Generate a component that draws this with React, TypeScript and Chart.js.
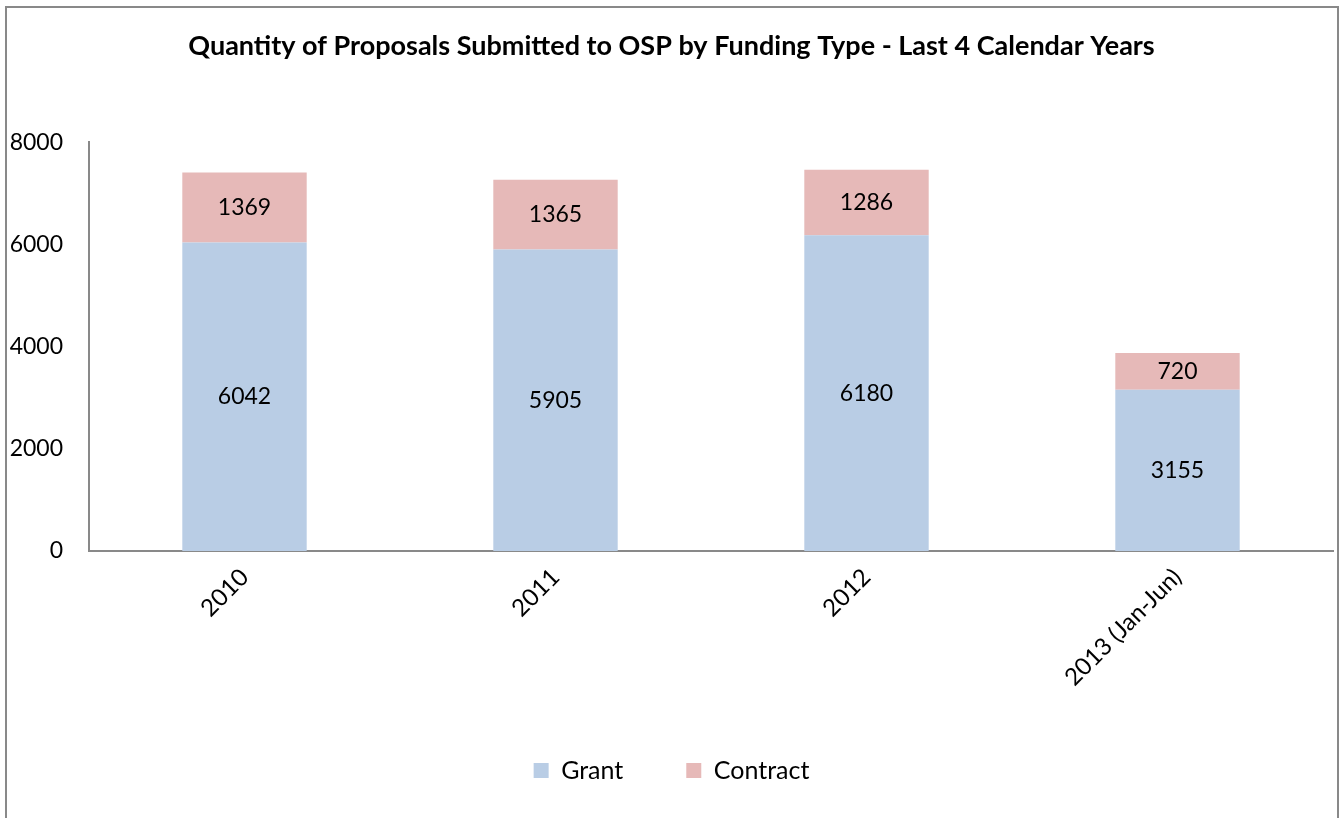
import React, { useEffect, useRef } from "react";
import { Chart, registerables } from "chart.js";

Chart.register(...registerables);

const categories = ["2010", "2011", "2012", "2013 (Jan-Jun)"];
const grantValues = [6042, 5905, 6180, 3155];
const contractValues = [1369, 1365, 1286, 720];
const yTicks = [0, 2000, 4000, 6000, 8000];
const titleText = "Quantity of Proposals Submitted to OSP by Funding Type - Last 4 Calendar Years";
const seriesNames = ["Grant", "Contract"];

const FONT = "Lato, 'Open Sans', sans-serif";

const valueLabels = {
  id: "valueLabels",
  afterDatasetsDraw(chart: any) {
    const ctx = chart.ctx;
    ctx.save();
    ctx.font = `23px ${FONT}`;
    ctx.fillStyle = "#000";
    ctx.textAlign = "center";
    ctx.textBaseline = "middle";
    chart.data.datasets.forEach((ds: any, di: number) => {
      const meta = chart.getDatasetMeta(di);
      meta.data.forEach((bar: any, i: number) => {
        const p = bar.getProps(["x", "y", "base"], true);
        ctx.fillText(String(ds.data[i]), p.x, (p.y + p.base) / 2);
      });
    });
    ctx.restore();
  },
};

export default function App() {
  const ref = useRef<HTMLCanvasElement | null>(null);
  useEffect(() => {
    if (!ref.current) return;
    const chart = new Chart(ref.current, {
      type: "bar",
      data: {
        labels: categories,
        datasets: [
          { label: seriesNames[0], data: grantValues, backgroundColor: "#B9CDE5", borderWidth: 0, barPercentage: 0.8, categoryPercentage: 0.5 },
          { label: seriesNames[1], data: contractValues, backgroundColor: "#E6B9B8", borderWidth: 0, barPercentage: 0.8, categoryPercentage: 0.5 },
        ],
      },
      options: {
        responsive: false,
        animation: false,
        layout: { padding: { left: 10, right: 7, top: 0, bottom: 25 } },
        plugins: {
          title: {
            display: true,
            text: titleText,
            color: "#000",
            font: { family: FONT, size: 27, weight: "bold" },
            padding: { top: 30, bottom: 80 },
          },
          legend: {
            position: "bottom",
            labels: {
              color: "#000",
              font: { family: FONT, size: 25 },
              boxWidth: 15,
              boxHeight: 15,
              padding: 63,
            },
          },
          tooltip: { enabled: false },
        },
        scales: {
          x: {
            stacked: true,
            grid: { display: false, drawTicks: false },
            border: { display: true, color: "#898989", width: 2 },
            ticks: { color: "#000", font: { family: FONT, size: 24 }, maxRotation: 45, minRotation: 45, padding: 12, autoSkip: false },
            afterFit: (s: any) => { s.height = 144; },
          },
          y: {
            stacked: true,
            min: 0,
            max: 8000,
            afterBuildTicks: (s: any) => { s.ticks = yTicks.map((v) => ({ value: v })); },
            grid: { display: false, drawTicks: false },
            border: { display: true, color: "#898989", width: 2 },
            ticks: { color: "#000", font: { family: FONT, size: 23 }, padding: 26, callback: (v: any) => String(v) },
            afterFit: (s: any) => { s.width = 79; },
          },
        },
      },
      plugins: [valueLabels],
    });
    return () => chart.destroy();
  }, []);

  return (
    <div style={{ position: "absolute", left: 0, top: 0, width: 1340, height: 818, overflow: "hidden", background: "#fff" }}>
      <div style={{ position: "absolute", left: 5, top: 6, width: 1330, height: 830, border: "2px solid #898989" }} />
      <canvas ref={ref} width={1340} height={818} style={{ position: "absolute", left: 0, top: 0 }} />
    </div>
  );
}
